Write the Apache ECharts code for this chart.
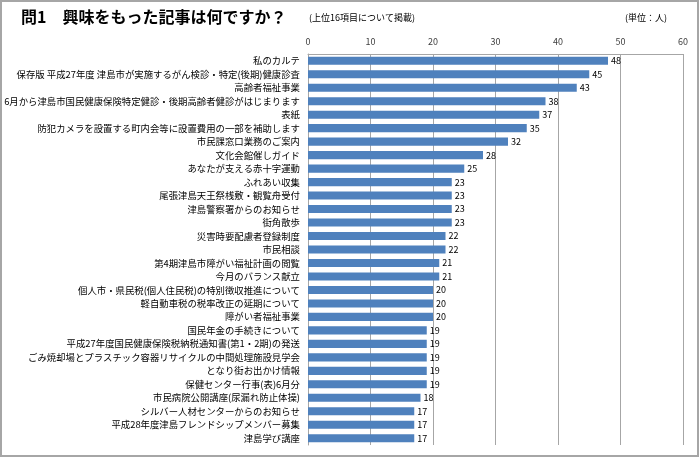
<!DOCTYPE html>
<html><head><meta charset="utf-8">
<script src="https://cdn.jsdelivr.net/npm/echarts@6/dist/echarts.min.js"></script>
<style>html,body{margin:0;padding:0;background:#fff}#c{width:699px;height:457px}</style>
</head><body><div id="c"></div>
<script>
const categories = [
  '私のカルテ',
  '保存版 平成27年度 津島市が実施するがん検診・特定(後期)健康診査',
  '高齢者福祉事業',
  '6月から津島市国民健康保険特定健診・後期高齢者健診がはじまります',
  '表紙',
  '防犯カメラを設置する町内会等に設置費用の一部を補助します',
  '市民課窓口業務のご案内',
  '文化会館催しガイド',
  'あなたが支える赤十字運動',
  'ふれあい収集',
  '尾張津島天王祭桟敷・観覧舟受付',
  '津島警察署からのお知らせ',
  '街角散歩',
  '災害時要配慮者登録制度',
  '市民相談',
  '第4期津島市障がい福祉計画の閲覧',
  '今月のバランス献立',
  '個人市・県民税(個人住民税)の特別徴収推進について',
  '軽自動車税の税率改正の延期について',
  '障がい者福祉事業',
  '国民年金の手続きについて',
  '平成27年度国民健康保険税納税通知書(第1・2期)の発送',
  'ごみ焼却場とプラスチック容器リサイクルの中間処理施設見学会',
  'となり街お出かけ情報',
  '保健センター行事(表)6月分',
  '市民病院公開講座(尿漏れ防止体操)',
  'シルバー人材センターからのお知らせ',
  '平成28年度津島フレンドシップメンバー募集',
  '津島学び講座'
];
const values = [48,45,43,38,37,35,32,28,25,23,23,23,23,22,22,21,21,20,20,20,19,19,19,19,19,18,17,17,17];
const axisMin = 0, axisMax = 60, axisStep = 10;
const titleText = '問1　興味をもった記事は何ですか？';
const subText = '(上位16項目について掲載)';
const unitText = '(単位：人)';

const FONT = '"Noto Sans CJK JP", sans-serif';
const chart = echarts.init(document.getElementById('c'));
chart.setOption({
  animation: false,
  textStyle: {fontFamily: FONT},
  graphic: [
    {type:'rect', shape:{x:1,y:1,width:697,height:455}, style:{fill:'none', stroke:'#a6a6a6', lineWidth:2}, silent:true},
    {type:'text', left:21, top:9, style:{text:titleText, font:'bold 16px '+FONT, fill:'#000'}},
    {type:'text', left:309, top:13, style:{text:subText, font:'9px '+FONT, fill:'#000'}},
    {type:'text', left:625, top:13, style:{text:unitText, font:'9px '+FONT, fill:'#000'}}
  ],
  grid: {left:308, right:16, top:54, bottom:12, containLabel:false, outerBoundsMode:'none'},
  xAxis: {
    type:'value', position:'top', min:axisMin, max:axisMax, interval:axisStep,
    axisLine:{show:true, lineStyle:{color:'#a6a6a6', width:1}},
    axisTick:{show:false},
    axisLabel:{fontSize:9, color:'#404040', margin:8, fontFamily:FONT},
    splitLine:{show:true, lineStyle:{color:'#a6a6a6', width:1}}
  },
  yAxis: {
    type:'category', data:categories, inverse:true,
    axisLine:{show:true, lineStyle:{color:'#a6a6a6'}},
    axisTick:{show:false},
    axisLabel:{fontSize:9.4, color:'#000', margin:8, fontFamily:FONT, interval:0}
  },
  series: [{
    type:'bar', data:values, barCategoryGap:'40%',
    itemStyle:{color:'#4f81bd'},
    label:{show:true, position:'right', distance:3, fontSize:9, color:'#000', fontFamily:FONT}
  }]
});
</script></body></html>
